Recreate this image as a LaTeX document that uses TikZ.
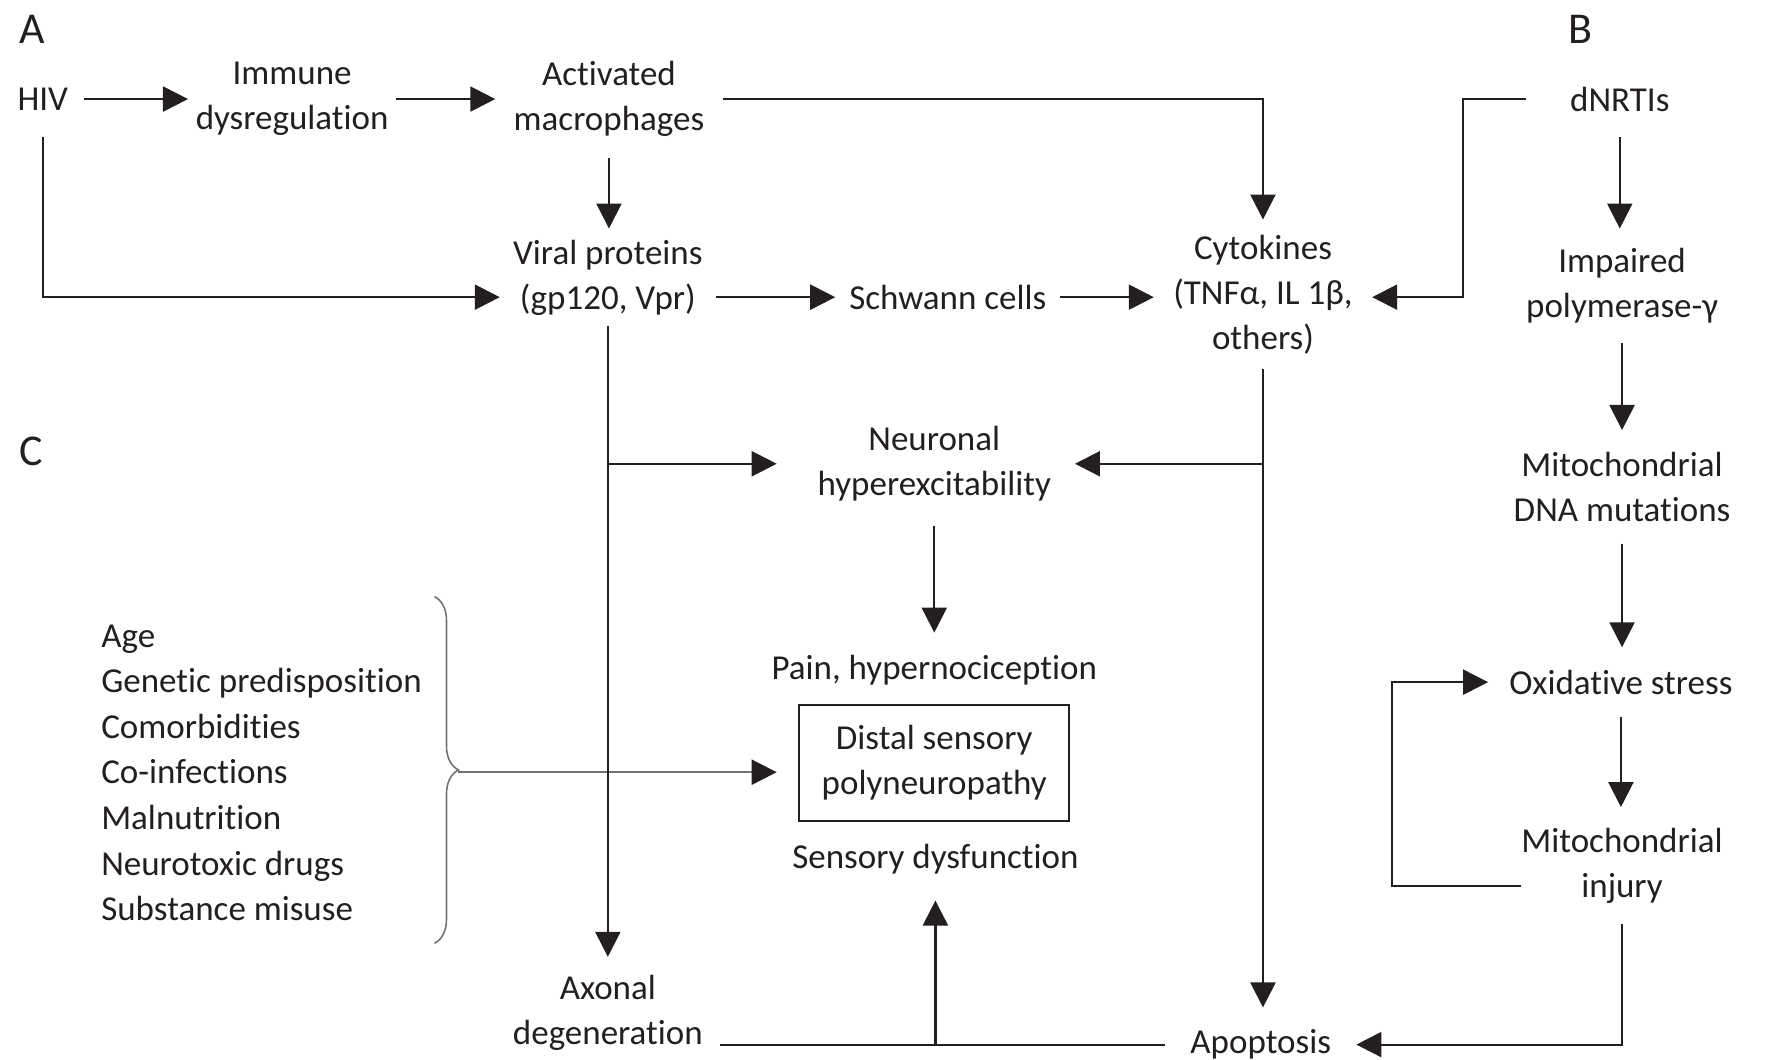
\documentclass[tikz,border=0pt]{standalone}
\usepackage{fontspec}
\setmainfont[Ligatures=NoCommon]{Carlito}
\usetikzlibrary{arrows.meta,decorations.pathreplacing}
\definecolor{ink}{HTML}{231F20}
\begin{document}
\begin{tikzpicture}[x=1.1256pt,y=-1.1256pt,
  every node/.style={inner sep=0pt, outer sep=0pt, align=center, text=ink, font=\fontsize{35}{45}\selectfont},
  sz/.style 2 args={minimum width=#1*1.1256pt, minimum height=#2*1.1256pt},
  conn/.style={line width=2.2pt, draw=ink},
  arr/.style={conn, -{Triangle[length=25pt,width=25pt]}},
  lbl/.style={font=\fontsize{44}{50}\selectfont}
]
\useasboundingbox (0,0) rectangle (1568,941);

% panel labels
\node[lbl] (la) at (29,26) {A};
\node[lbl] (lb) at (1404,26) {B};
\node[lbl] (lc) at (28,401) {C};

% nodes
\node[sz={74}{68}] (hiv) at (38,88) {HIV};
\node[sz={185}{80}] (imm) at (259.5,88) {Immune\\dysregulation};
\node[sz={202}{104}] (act) at (541,88) {Activated\\macrophages};
\node[sz={192}{87}] (vir) at (540,246.5) {Viral proteins\\(gp120, Vpr)};
\node[sz={200}{40}] (sch) at (842,264) {Schwann cells};
\node[sz={194}{133}] (cyt) at (1122,261.5) {Cytokines\\(TNFα, IL 1β,\\others)};
\node[sz={166}{68}] (dn) at (1439,88) {dNRTIs};
\node[sz={200}{102}] (imp) at (1441,254) {Impaired\\polymerase-γ};
\node[sz={210}{101}] (mdna) at (1441,432.5) {Mitochondrial\\DNA mutations};
\node[sz={236}{62}] (ox) at (1440,606) {Oxidative stress};
\node[sz={172}{104}] (mi) at (1441,769) {Mitochondrial\\injury};
\node[sz={250}{110}] (neu) at (830,412) {Neuronal\\hyperexcitability};
\node[sz={300}{66}] (pain) at (830,595) {Pain, hypernociception};
\node[draw=ink, line width=2pt, sz={240}{103}] (dsp) at (830,677.5) {Distal sensory\\polyneuropathy};
\node[sz={270}{74}] (sens) at (831,763) {Sensory dysfunction};
\node[sz={200}{100}] (ax) at (540,900) {Axonal\\degeneration};
\node[sz={170}{66}] (apo) at (1120,928) {Apoptosis};
\node[anchor=west, align=left, font=\fontsize{35}{45.6}\selectfont] (risk) at (90,686.5)
  {Age\\Genetic predisposition\\Comorbidities\\Co-infections\\Malnutrition\\Neurotoxic drugs\\Substance misuse};

% brace and its arrow
\draw[black!55, line width=1.6pt, decorate, decoration={brace, amplitude=24pt}] (386,530) -- (386,838);
\coordinate (btip) at (407,686);
\coordinate (dspin) at (690,686);
\draw[line width=2pt, draw=black!55, -{Triangle[length=25pt,width=25pt,color=ink]}] (btip) -- (dspin);

% connectors
\draw[arr] (hiv) -- (imm);
\draw[arr] (imm) -- (act);
\draw[arr] (act.east) -| (cyt.north);
\draw[arr] (act.south) -- (act.south |- vir.north);
\draw[arr] (hiv.south) |- (vir.west |- sch);
\draw[arr] (vir.east |- sch) -- (sch.west);
\draw[arr] (sch.east) -- (sch -| cyt.west);
\draw[arr] (dn.west) -- ++(-56,0) |- (sch -| cyt.east);
\draw[arr] (dn.south) -- (dn.south |- imp.north);
\draw[arr] (imp.south) -- (imp.south |- mdna.north);
\draw[arr] (mdna.south) -- (mdna.south |- ox.north);
\draw[arr] (ox.south) -- (ox.south |- mi.north);
\draw[arr] (mi.west |- 0,787) -- ++(-115,0) |- (ox.west);
\draw[arr] (mi.south) |- (apo.east);
\draw[arr] (cyt.south) -- (cyt.south |- apo.north);
\draw[arr] (cyt.south |- neu) -- (neu.east);
\draw[arr] (vir.south) -- (vir.south |- ax.north);
\draw[arr] (vir.south |- neu) -- ([xshift=-15*1.1256pt]neu.west);
\draw[arr] (neu.south) -- (pain.north);
\draw[conn] (ax.east |- apo) -- (apo.west);
\draw[arr] (sens |- apo) -- (sens.south);
\end{tikzpicture}
\end{document}
